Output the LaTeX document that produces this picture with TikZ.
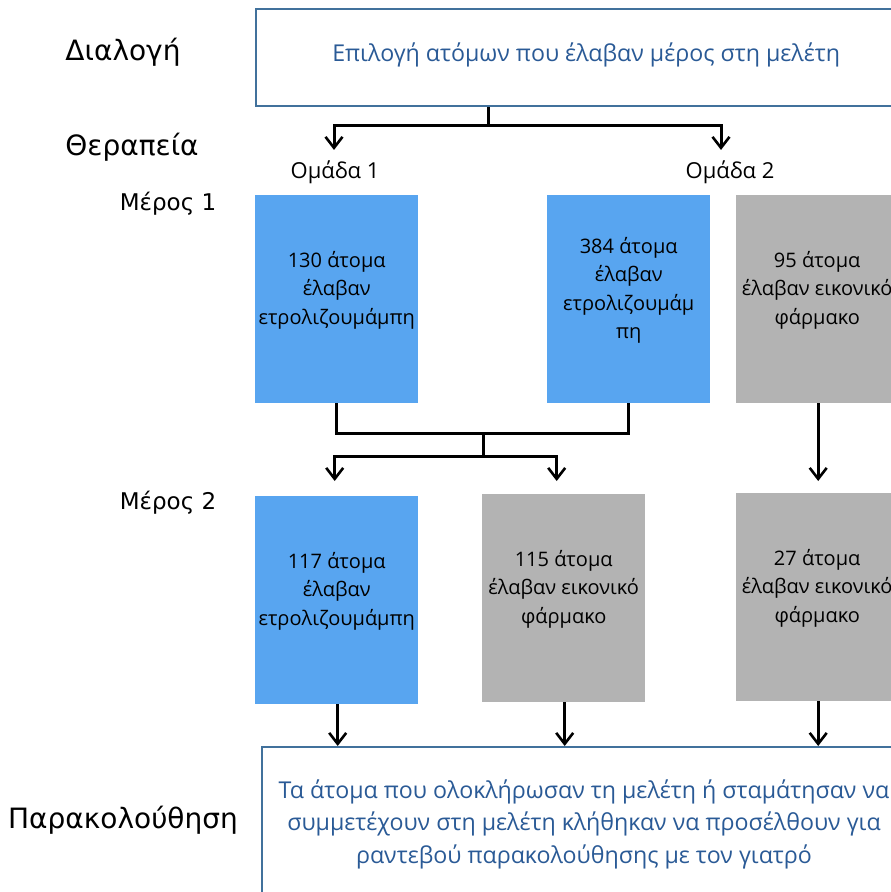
\documentclass[tikz,border=0pt]{standalone}
\usepackage{fontspec}
\setmainfont{Open Sans}
\newfontfamily\phasefont{DejaVu Sans}
\usetikzlibrary{arrows.meta,positioning}
\definecolor{BarBlue}{HTML}{58A5F0}
\definecolor{BarGrey}{HTML}{B3B3B3}
\definecolor{Frame}{HTML}{41719C}
\definecolor{Ink}{HTML}{2A5A96}

\begin{document}
\begin{tikzpicture}[x=1pt,y=-1pt,
  frame/.style={draw=Frame,line width=2.3pt,fill=white,inner sep=0pt,anchor=north west},
  bar/.style={fill=#1,inner sep=0pt,minimum width=163pt,minimum height=208pt,anchor=north west},
  bartext/.style={align=center,font=\fontsize{20}{28.5}\selectfont},
  frametext/.style={align=center,text=Ink,font=\fontsize{23.2}{32.5}\selectfont},
  phase/.style={font=\phasefont\fontsize{28}{32}\selectfont},
  part/.style={font=\phasefont\fontsize{23}{27}\selectfont},
  group/.style={font=\fontsize{22}{25}\selectfont},
  link/.style={line width=3pt},
  arr/.style={link,-{Straight Barb[length=11pt,width=17pt,line width=2.6pt]}}
]
\path[use as bounding box,clip] (0,0) rectangle (891,892);

% phases
\node[phase] (pdia) at (123,52) {Διαλογή};
\node[phase] (pthe) at (132,147) {Θεραπεία};
\node[part] (pm1) at (168,204) {Μέρος 1};
\node[part] (pm2) at (168,503) {Μέρος 2};
\node[phase] (ppar) at (123,820) {Παρακολούθηση};

% selection
\node[frame,minimum width=660pt,minimum height=97pt] (sel) at (255,8) {};
\node[frametext] (seltxt) at ([yshift=3pt]sel.center) {Επιλογή ατόμων που έλαβαν μέρος στη μελέτη};
\node[group] (om1) at (335,172) {Ομάδα 1};
\node[group] (om2) at (730,172) {Ομάδα 2};
\coordinate (j1) at (488,125);
\draw[link] (sel.south -| j1) -- (j1);
\draw[arr,shorten >=7pt] (j1) -| ([xshift=-1pt]om1.north);
\draw[arr,shorten >=7pt] (j1) -| ([xshift=-9pt]om2.north);

% part 1
\node[bar=BarBlue] (a1) at (255,195) {};
\node[bar=BarBlue] (a2) at (547,195) {};
\node[bar=BarGrey,minimum width=180pt] (a3) at (736,195) {};
\node[bartext] (a1txt) at ([yshift=9pt]a1.center) {130 άτομα\\έλαβαν\\ετρολιζουμάμπη};
\node[bartext] (a2txt) at ([yshift=9pt]a2.center) {384 άτομα\\έλαβαν\\ετρολιζουμάμ\\πη};
\node[bartext] (a3txt) at ([xshift=-9pt,yshift=9pt]a3.center) {95 άτομα\\έλαβαν εικονικό\\φάρμακο};

% part 2
\node[bar=BarBlue] (b1) at (255,496) {};
\node[bar=BarGrey] (b2) at (482,494) {};
\node[bar=BarGrey,minimum width=180pt] (b3) at (736,493) {};
\node[bartext] (b1txt) at ([yshift=9pt]b1.center) {117 άτομα\\έλαβαν\\ετρολιζουμάμπη};
\node[bartext] (b2txt) at ([yshift=9pt]b2.center) {115 άτομα\\έλαβαν εικονικό\\φάρμακο};
\node[bartext] (b3txt) at ([xshift=-9pt,yshift=9pt]b3.center) {27 άτομα\\έλαβαν εικονικό\\φάρμακο};

\coordinate (m1) at (483,433);
\coordinate (m2) at (483,456);
\draw[link] (a1.south) |- (m1) -| (a2.south);
\draw[link] (m1) -- (m2);
\draw[arr,shorten >=15pt] (m2) -| ([xshift=-2pt]b1.north);
\draw[arr,shorten >=13pt] (m2) -| ([xshift=-7pt]b2.north);
\draw[arr,shorten >=12pt] ([xshift=-8pt]a3.south) -- ([xshift=-8pt]b3.north);

% follow-up
\node[frame,minimum width=650pt,minimum height=170pt] (fu) at (261,746) {};
\node[frametext] (futxt) at (584,824) {Τα άτομα που ολοκλήρωσαν τη μελέτη ή σταμάτησαν να\\συμμετέχουν στη μελέτη κλήθηκαν να προσέλθουν για\\ραντεβού παρακολούθησης με τον γιατρό};
\draw[arr] ([xshift=1pt]b1.south) -- ([xshift=1pt]b1.south |- fu.north);
\draw[arr] ([xshift=1pt]b2.south) -- ([xshift=1pt]b2.south |- fu.north);
\draw[arr] ([xshift=-8pt]b3.south) -- ([xshift=-8pt]b3.south |- fu.north);
\end{tikzpicture}
\end{document}
